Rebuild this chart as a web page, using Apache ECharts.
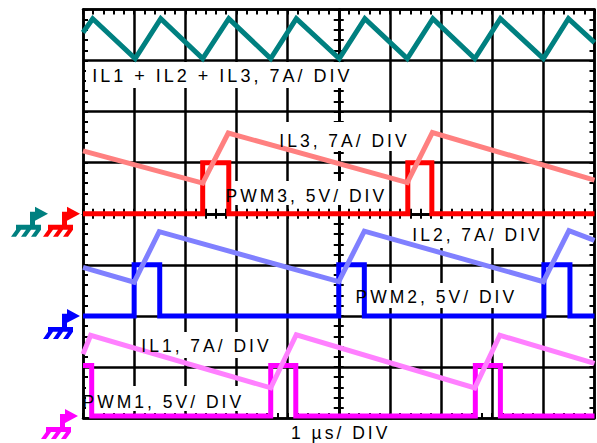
<!DOCTYPE html>
<html><head><meta charset="utf-8">
<script src="https://cdn.jsdelivr.net/npm/echarts@6/dist/echarts.min.js"></script>
<style>
html,body{margin:0;padding:0;background:#fff;}
#chart{width:597px;height:443px;}
#chart svg text{letter-spacing:3px !important;}
</style></head><body><div id="chart"></div>
<script>
// Horizontal unit: 1 µs per division; vertical unit: screen divisions (0 = bottom edge)
const ilSumTime  = [0, 0.19, 1.02, 1.52, 2.34, 2.85, 3.67, 4.17, 5.01, 5.51, 6.34, 6.84, 7.66, 8.16, 9.0, 9.49, 10];
const ilSumLevel = [7.55, 7.82, 7.04, 7.82, 7.04, 7.82, 7.04, 7.82, 7.04, 7.82, 7.04, 7.82, 7.04, 7.82, 7.04, 7.82, 7.35];

const il3Time  = [0, 2.34, 2.84, 6.34, 6.83, 10];
const il3Level = [5.23, 4.60, 5.58, 4.61, 5.59, 4.66];
const pwm3Time  = [0, 2.34, 2.85, 6.35, 6.82, 10];
const pwm3Level = [4, 5, 4, 5, 4, 4];

const il2Time  = [0, 1.0, 1.49, 5.0, 5.5, 9.0, 9.5, 10];
const il2Level = [2.95, 2.66, 3.65, 2.67, 3.66, 2.67, 3.67, 3.48];
const pwm2Time  = [0, 1.0, 1.5, 5.0, 5.5, 9.01, 9.52, 10];
const pwm2Level = [2, 3, 2, 3, 2, 3, 2, 2];

const il1Time  = [0, 0.15, 3.67, 4.17, 7.66, 8.15, 10];
const il1Level = [1.25, 1.62, 0.59, 1.63, 0.59, 1.62, 1.07];
const pwm1Time  = [0, 0.17, 3.67, 4.16, 7.67, 8.16, 10];
const pwm1Level = [1.03, 0.04, 1.03, 0.04, 1.03, 0.04, 0.04];

const traceLabels = ['IL1 + IL2 + IL3, 7A/ DIV', 'IL3, 7A/ DIV', 'PWM3, 5V/ DIV', 'IL2, 7A/ DIV', 'PWM2, 5V/ DIV', 'IL1, 7A/ DIV', 'PWM1, 5V/ DIV'];
const timeBaseLabel = '1 µs/ DIV';

// ---- layout / style (not data) ----
const FAMILY = '"Liberation Sans", Arial, Helvetica, sans-serif';
const labelFontPx = [18, 17.5, 17.5, 17.5, 17.5, 17.5, 17.5];
const labelPos = [[92.3, 75.8], [279.3, 140.9], [225.6, 195.9], [412.3, 234.9], [355.6, 296.9], [141.3, 345.9], [82.6, 401.9]];
const timeBasePos = [291, 433.2];
const labelBoxes = [[86, 62, 353, 88], [276, 122, 410, 151], [223, 181, 386, 205], [409, 219, 541, 248], [352, 283, 518, 308], [139, 332, 272, 358], [86, 386, 242, 411]];
const groundPath = 'path://M24 1 L37 8 L24 15 Z M19 6 L25 6 L25 11 L19 11 Z M19 6 L24 6 L24 21 L19 21 Z M5 19 L30 19 L30 24 L5 24 Z M5 24 L10 24 L5 31 L0 31 Z M15 24 L20 24 L15 31 L10 31 Z M25 24 L30 24 L25 31 L20 31 Z';

function pts(t, v) { return t.map((x, i) => [x, v[i]]); }

const BLACK = '#000';
const gridRect = {left: 83, right: 2.5, top: 9.5, bottom: 25};

function frameAxis(pos, gridIndex, min, max, split) {
  return {
    type: 'value', gridIndex: gridIndex, position: pos, min: min, max: max, interval: 1,
    axisLine: {show: true, onZero: false, lineStyle: {color: BLACK, width: 2.5}},
    axisTick: {show: true, inside: true, length: 5, lineStyle: {color: BLACK, width: 2}},
    minorTick: {show: true, splitNumber: 5, length: 5, lineStyle: {color: BLACK, width: 2}},
    axisLabel: {show: false},
    splitLine: {show: split, lineStyle: {color: BLACK, width: 2.5}},
    minorSplitLine: {show: false}
  };
}
function centerAxis(pos, min, max, otherIdx) {
  return {
    type: 'value', gridIndex: 1, position: pos, min: min, max: max, interval: 1,
    axisLine: {show: true, onZero: true, onZeroAxisIndex: otherIdx, lineStyle: {color: BLACK, width: 2.5}},
    axisTick: {show: true, inside: false, length: 5, lineStyle: {color: BLACK, width: 2}},
    minorTick: {show: true, splitNumber: 5, length: 5, lineStyle: {color: BLACK, width: 2}},
    axisLabel: {show: false},
    splitLine: {show: false}
  };
}

function trace(name, t, v, color, width, step, extra) {
  const s = {
    type: 'line', name: name, xAxisIndex: 0, yAxisIndex: 0,
    data: pts(t, v), showSymbol: false, symbol: 'none', silent: true, animation: false,
    lineStyle: {color: color, width: width, join: 'miter', cap: 'butt'}, z: 3
  };
  if (step) s.step = 'end';
  return Object.assign(s, extra || {});
}

function groundMarks(level, items) {
  return {
    symbol: groundPath, symbolSize: [37, 30], silent: true, label: {show: false},
    data: items.map(it => ({coord: [0, level], symbolOffset: [it[0], 8], itemStyle: {color: it[1]}}))
  };
}

const chart = echarts.init(document.getElementById('chart'), null, {renderer: 'svg'});

const graphicEls = [];
labelBoxes.forEach(b => graphicEls.push({type: 'rect', z: 1, silent: true, shape: {x: b[0], y: b[1], width: b[2] - b[0], height: b[3] - b[1]}, style: {fill: '#fff'}}));
traceLabels.forEach((txt, i) => graphicEls.push({type: 'text', z: 10, silent: true, x: labelPos[i][0], y: labelPos[i][1],
  style: {text: txt, font: labelFontPx[i] + 'px ' + FAMILY, fill: '#000', textAlign: 'left', textVerticalAlign: 'middle', align: 'left', verticalAlign: 'middle'}}));
graphicEls.push({type: 'text', z: 10, silent: true, x: timeBasePos[0], y: timeBasePos[1],
  style: {text: timeBaseLabel, font: '17.5px ' + FAMILY, fill: '#000', textAlign: 'left', textVerticalAlign: 'middle', align: 'left', verticalAlign: 'middle'}});

chart.setOption({
  animation: false,
  backgroundColor: '#fff',
  grid: [Object.assign({}, gridRect), Object.assign({}, gridRect)],
  xAxis: [
    frameAxis('bottom', 0, 0, 10, true),
    frameAxis('top', 0, 0, 10, false),
    centerAxis('bottom', -5, 5, 2),
    centerAxis('top', -5, 5, 3)
  ],
  yAxis: [
    frameAxis('left', 0, 0, 8, true),
    frameAxis('right', 0, 0, 8, false),
    centerAxis('left', -4, 4, 2),
    centerAxis('right', -4, 4, 3)
  ],
  graphic: {elements: graphicEls},
  series: [
    trace('PWM3', pwm3Time, pwm3Level, '#ff0000', 5, true, {markPoint: groundMarks(pwm3Level[0], [[-53.5, '#008080'], [-21.5, '#ff0000']])}),
    trace('PWM2', pwm2Time, pwm2Level, '#0000ff', 5, true, {markPoint: groundMarks(pwm2Level[0], [[-21.5, '#0000ff']])}),
    trace('PWM1', pwm1Time, pwm1Level, '#ff00ff', 5, true, {markPoint: groundMarks(pwm1Level[pwm1Level.length - 1], [[-23.5, '#ff00ff']])}),
    trace('IL3', il3Time, il3Level, '#ff8080', 5, false),
    trace('IL2', il2Time, il2Level, '#8080ff', 5, false),
    trace('IL1', il1Time, il1Level, '#ff80ff', 5, false),
    trace('IL1 + IL2 + IL3', ilSumTime, ilSumLevel, '#008080', 5, false)
  ]
});
</script></body></html>
